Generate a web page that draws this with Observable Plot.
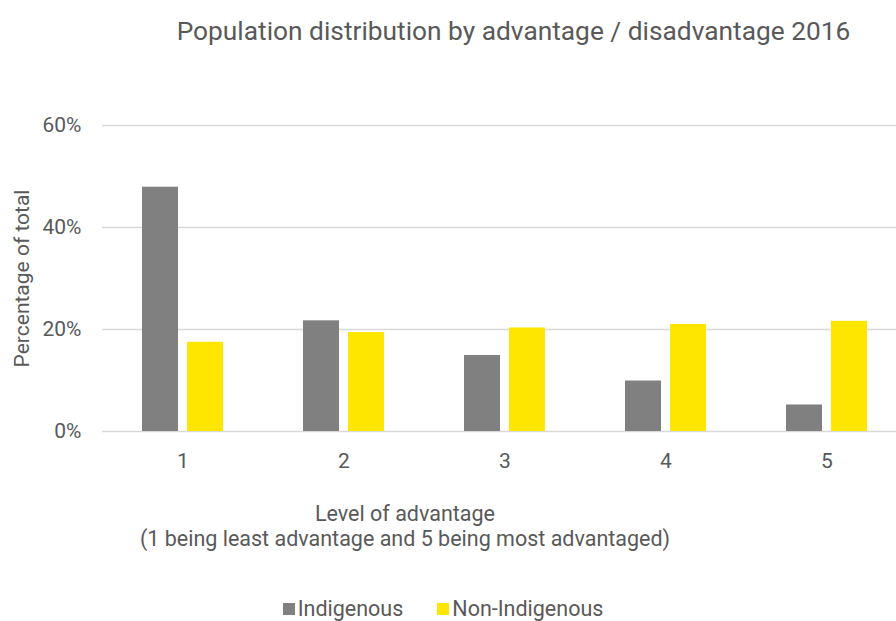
<!DOCTYPE html>
<html>
<head>
<meta charset="utf-8">
<script src="https://cdn.jsdelivr.net/npm/d3@7"></script>
<script src="https://cdn.jsdelivr.net/npm/@observablehq/plot@0.6"></script>
<style>
  html, body { margin: 0; padding: 0; background: #fff; overflow: hidden; }
  #wrap { position: relative; width: 896px; height: 621px; font-family: Roboto, "Open Sans", sans-serif; color: #595959; }
  #title { position: absolute; top: 15px; left: 0; width: 1027px; text-align: center; font-size: 26.3px; line-height: 32px; }
  #xlab { position: absolute; top: 501px; left: 0; width: 810px; text-align: center; font-size: 21.5px; line-height: 25px; }
  #legend { position: absolute; top: 597px; left: 0; width: 886px; display: flex; justify-content: center; font-size: 21.5px; line-height: 24px; }
  #legend .sw { display: inline-block; width: 12px; height: 12px; margin-right: 3px; }
  #legend .it { display: flex; align-items: center; margin: 0 17px; }
  #chart { position: absolute; top: 0; left: 0; }
</style>
</head>
<body>
<div id="wrap">
  <div id="chart"></div>
  <div id="title">Population distribution by advantage / disadvantage 2016</div>
  <div id="xlab">Level of advantage<br>(1 being least advantage and 5 being most advantaged)</div>
  <div id="legend"></div>
</div>
<script>
const levels = ["1", "2", "3", "4", "5"];
const seriesNames = ["Indigenous", "Non-Indigenous"];
const indigenous = [47.9, 21.7, 14.9, 9.9, 5.2];
const nonIndigenous = [17.5, 19.4, 20.3, 21.0, 21.6];
const colors = ["#808080", "#FFE600"];
const yTicks = [0, 20, 40, 60];

const data = [];
levels.forEach((lv, i) => {
  data.push({level: lv, series: seriesNames[0], value: indigenous[i]});
  data.push({level: lv, series: seriesNames[1], value: nonIndigenous[i]});
});

const plot = Plot.plot({
  width: 896,
  height: 480,
  marginTop: 125,
  marginBottom: 49,
  marginLeft: 101,
  marginRight: -12,
  style: {fontFamily: "Roboto, 'Open Sans', sans-serif", fontSize: "21px", color: "#595959", background: "transparent"},
  fx: {domain: levels, padding: 0, label: null, axis: "bottom", tickSize: 0, tickPadding: 22},
  x: {domain: seriesNames, axis: null, paddingInner: 0.21, paddingOuter: 0.87},
  y: {domain: [0, 60], ticks: yTicks, tickFormat: d => d + "%", tickSize: 0, tickPadding: 21,
      label: "Percentage of total", labelAnchor: "center", labelOffset: 88, labelArrow: "none"},
  color: {domain: seriesNames, range: colors},
  marks: [
    Plot.ruleY(yTicks, {stroke: "#d9d9d9", strokeWidth: 1.6}),
    Plot.barY(data, {fx: "level", x: "series", y: "value", fill: "series"})
  ]
});
document.getElementById("chart").appendChild(plot);

const legend = document.getElementById("legend");
seriesNames.forEach((s, i) => {
  const it = document.createElement("span");
  it.className = "it";
  it.innerHTML = `<span class="sw" style="background:${colors[i]}"></span>${s}`;
  legend.appendChild(it);
});
</script>
</body>
</html>
